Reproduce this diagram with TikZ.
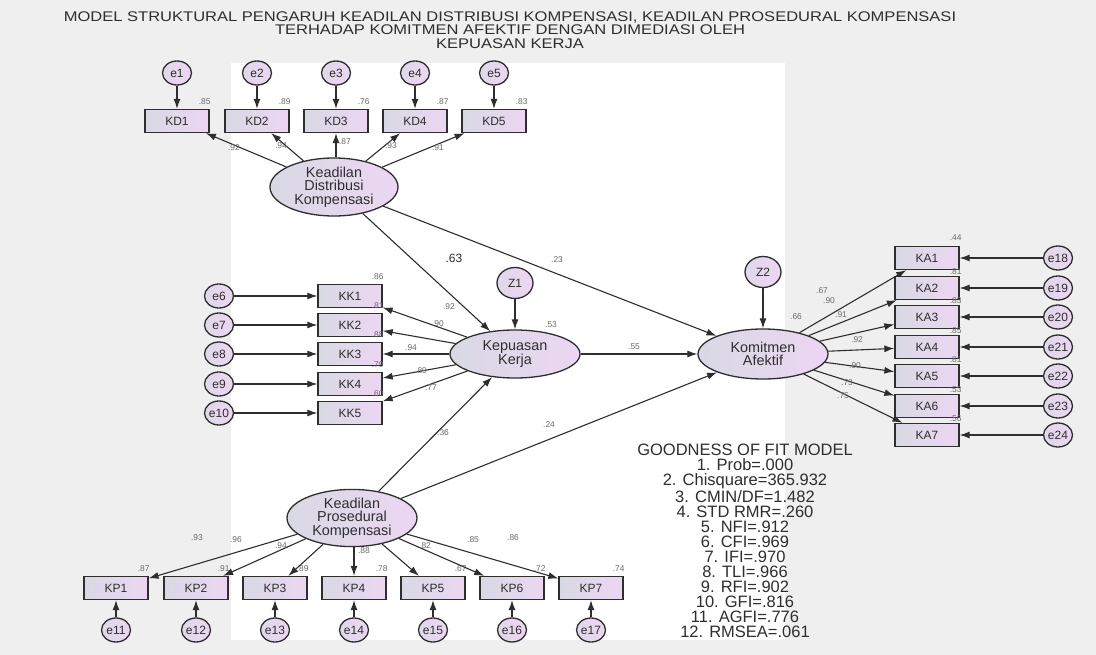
\documentclass[tikz,border=0pt]{standalone}
\usepackage{fontspec}
\setmainfont{Liberation Sans}
\newfontfamily\widesans[FakeStretch=1.18]{Liberation Sans}
\usetikzlibrary{arrows.meta,shapes.geometric}

\definecolor{bggray}{HTML}{EFEFEF}
\definecolor{shl}{HTML}{D8D9E4}
\definecolor{shr}{HTML}{ECD6F2}
\definecolor{ink}{HTML}{2E2E2E}
\definecolor{coefc}{HTML}{6A6A6A}

\tikzset{
  obs/.style={draw=ink, line width=1.3pt, minimum width=64pt, minimum height=23pt,
    left color=shl, right color=shr, inner sep=0pt, text=ink,
    font=\fontsize{12}{12}\selectfont},
  err/.style={ellipse, draw=ink, line width=1.3pt, minimum width=29pt, minimum height=24pt,
    left color=shl!60!shr, right color=shr, inner sep=0pt, text=ink,
    font=\fontsize{12}{12}\selectfont},
  dist/.style={err, minimum width=36pt, minimum height=31pt},
  lat/.style={ellipse, draw=ink, line width=1.3pt, left color=shl, right color=shr,
    inner sep=0pt, align=center, text=ink, font=\fontsize{14.4}{13.5}\selectfont},
  arr/.style={draw=ink, line width=1.1pt, -{Latex[length=10pt,width=7pt]}},
  coef/.style={font=\fontsize{8.4}{8.4}\selectfont, text=coefc, inner sep=0pt},
  bigcoef/.style={font=\fontsize{12}{12}\selectfont, text=ink, inner sep=0pt},
}

\begin{document}
\begin{tikzpicture}[x=1pt, y=-1pt]
% canvas
\fill[bggray] (0,0) rectangle (1096,655);
\fill[white] (231,63) rectangle (785,640);
\useasboundingbox (0,0) rectangle (1096,655);

% title
\node[align=center, text=ink, font=\widesans\fontsize{14}{13.3}\selectfont, inner sep=0pt] (title) at (510,30)
  {MODEL STRUKTURAL PENGARUH KEADILAN DISTRIBUSI KOMPENSASI, KEADILAN PROSEDURAL KOMPENSASI\\
   TERHADAP KOMITMEN AFEKTIF DENGAN DIMEDIASI OLEH\\
   KEPUASAN KERJA};

% latent variables
\node[lat, minimum width=128pt, minimum height=58pt] (KDL) at (334,187) {Keadilan\\Distribusi\\Kompensasi};
\node[lat, minimum width=130pt, minimum height=48pt] (KKL) at (515,354) {Kepuasan\\Kerja};
\node[lat, minimum width=130pt, minimum height=50pt] (KAL) at (763,354) {Komitmen\\Afektif};
\node[lat, minimum width=130pt, minimum height=50pt] (KPL) at (352,518) {Keadilan\\Prosedural\\Kompensasi};

% disturbances
\node[dist] (Z1) at (515,283) {Z1};
\node[dist] (Z2) at (763,272) {Z2};
\draw[arr] (Z1) -- (KKL);
\draw[arr] (Z2) -- (KAL);

% Keadilan Distribusi Kompensasi indicators
\foreach \i/\x/\r in {1/177/.85, 2/257/.89, 3/336/.76, 4/415/.87, 5/494/.83}{
  \node[obs] (KD\i) at (\x,121) {KD\i};
  \node[err] (e\i) at (\x,73) {e\i};
  \draw[arr] (e\i) -- (KD\i);
  \node[coef] at ([shift={(-5,-7)}]KD\i.north east) {\r};
}
\draw[arr] (KDL) -- (KD1);
\draw[arr] (KDL) -- (KD2);
\draw[arr] (KDL.north -| KD3) -- (KD3);
\draw[arr] (KDL) -- (KD4);
\draw[arr] (KDL) -- (KD5);
\node[coef] at (234,148) {.92};
\node[coef] at (281,146) {.94};
\node[coef] at (345,142) {.87};
\node[coef] at (391,146) {.93};
\node[coef] at (438,148) {.91};

% Kepuasan Kerja indicators
\foreach \i/\y/\r in {1/296/.86, 2/325/.81, 3/354/.88, 4/384/.79, 5/413/.60}{
  \pgfmathtruncatemacro{\en}{\i+5}
  \node[obs] (KK\i) at (350,\y) {KK\i};
  \node[err] (e\en) at (219,\y) {e\en};
  \draw[arr] (e\en) -- (KK\i);
  \draw[arr] (KKL) -- (KK\i);
  \node[coef] at ([shift={(-5,-7)}]KK\i.north east) {\r};
}
\node[coef] at (449,307) {.92};
\node[coef] at (438,324) {.90};
\node[coef] at (411,348) {.94};
\node[coef] at (421,371) {.89};
\node[coef] at (431,388) {.77};

% Komitmen Afektif indicators
\foreach \i/\y/\r in {1/258/.44, 2/288/.81, 3/317/.83, 4/347/.85, 5/376/.81, 6/406/.53, 7/435/.56}{
  \pgfmathtruncatemacro{\en}{\i+17}
  \node[obs] (KA\i) at (927,\y) {KA\i};
  \node[err] (e\en) at (1058,\y) {e\en};
  \draw[arr] (e\en) -- (KA\i);
  \draw[arr] (KAL) -- (KA\i);
}
\node[coef] at ([shift={(-4,-8)}]KA1.north east) {.44};
\foreach \i/\r in {2/.81, 3/.83, 4/.85, 5/.81, 6/.53, 7/.56}{
  \node[coef] at ([shift={(-4,-4)}]KA\i.north east) {\r};
}
\node[coef] at (822,291) {.67};
\node[coef] at (829,301) {.90};
\node[coef] at (796,317) {.66};
\node[coef] at (841,315) {.91};
\node[coef] at (857,340) {.92};
\node[coef] at (855,366) {.90};
\node[coef] at (847,383) {.73};
\node[coef] at (843,396) {.75};

% Keadilan Prosedural Kompensasi indicators
\foreach \i/\x/\r in {1/116/.87, 2/196/.91, 3/275/.89, 4/354/.78, 5/433/.67, 6/512/.72, 7/591/.74}{
  \pgfmathtruncatemacro{\en}{\i+10}
  \node[obs] (KP\i) at (\x,588) {KP\i};
  \node[err] (e\en) at (\x,630) {e\en};
  \draw[arr] (e\en) -- (KP\i);
  \node[coef] at ([shift={(-5,-7)}]KP\i.north east) {\r};
}
\draw[arr] (KPL) -- (KP1);
\draw[arr] (KPL) -- (KP2);
\draw[arr] (KPL) -- (KP3);
\draw[arr] (KPL.south -| KP4) -- (KP4);
\draw[arr] (KPL) -- (KP5);
\draw[arr] (KPL) -- (KP6);
\draw[arr] (KPL) -- (KP7);
\node[coef] at (197,538) {.93};
\node[coef] at (236,540) {.96};
\node[coef] at (281,546) {.94};
\node[coef] at (364,551) {.88};
\node[coef] at (425,546) {.82};
\node[coef] at (473,540) {.85};
\node[coef] at (513,538) {.86};

% structural paths
\draw[arr] (KDL) -- (KKL);
\draw[arr] (KDL) -- (KAL);
\draw[arr] (KKL) -- (KAL);
\draw[arr] (KPL) -- (KKL);
\draw[arr] (KPL) -- (KAL);
\node[bigcoef] at (454,258) {.63};
\node[coef] at (557,260) {.23};
\node[coef] at (634,347) {.55};
\node[coef] at (443,433) {.36};
\node[coef] at (549,425) {.24};
\node[coef] at (551,325) {.53};

% fit indices
\node[align=center, text=ink, font=\fontsize{16.5}{15.1}\selectfont, inner sep=0pt] (gof) at (745,541)
  {GOODNESS OF FIT MODEL\\
   1. Prob=.000\\
   2. Chisquare=365.932\\
   3. CMIN/DF=1.482\\
   4. STD RMR=.260\\
   5. NFI=.912\\
   6. CFI=.969\\
   7. IFI=.970\\
   8. TLI=.966\\
   9. RFI=.902\\
   10. GFI=.816\\
   11. AGFI=.776\\
   12. RMSEA=.061};
\end{tikzpicture}
\end{document}
